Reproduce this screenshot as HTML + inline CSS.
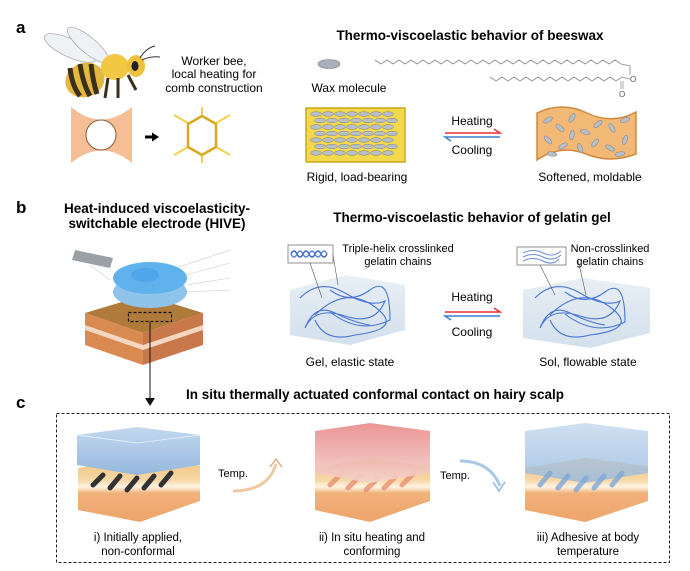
<!DOCTYPE html>
<html><head><meta charset="utf-8"><style>
html,body{margin:0;padding:0;background:#fff;}
svg{display:block;font-family:"Liberation Sans",Arial,sans-serif;}
</style></head><body>
<svg width="690" height="571" viewBox="0 0 690 571" xmlns="http://www.w3.org/2000/svg">
<defs>
<linearGradient id="blueTop" x1="0" y1="0" x2="0" y2="1"><stop offset="0" stop-color="#c4d8ee"/><stop offset="1" stop-color="#94b8de"/></linearGradient>
<linearGradient id="redTop" x1="0" y1="0" x2="0" y2="1"><stop offset="0" stop-color="#e88a8a"/><stop offset="1" stop-color="#f4d4cc"/></linearGradient>
<linearGradient id="skin" x1="0" y1="0" x2="0" y2="1"><stop offset="0" stop-color="#f3c27a"/><stop offset="0.35" stop-color="#f6d8a8"/><stop offset="0.45" stop-color="#fff3e4"/><stop offset="0.55" stop-color="#f0b27a"/><stop offset="1" stop-color="#eda46a"/></linearGradient>
<linearGradient id="gelcube" x1="0" y1="0" x2="0" y2="1"><stop offset="0" stop-color="#e8eff6"/><stop offset="1" stop-color="#d3e0ec"/></linearGradient>
</defs>

<!-- panel a -->
<text x="16" y="33" font-size="17" font-weight="bold">a</text>
<!-- bee -->
<ellipse cx="70" cy="48" rx="28" ry="9" fill="#eef2f5" stroke="#aab" stroke-width="0.8" transform="rotate(25 70 48)"/>
<ellipse cx="88" cy="45" rx="26" ry="8" fill="#eef2f5" stroke="#aab" stroke-width="0.8" transform="rotate(40 88 45)"/>
<ellipse cx="85" cy="80" rx="20" ry="17" fill="#e3b840" transform="rotate(-20 85 80)"/>
<path d="M70 68 q2 18 10 28 M80 64 q3 20 10 32 M91 64 q2 18 6 30" stroke="#3b2e1a" stroke-width="5" fill="none"/>
<ellipse cx="115" cy="67" rx="14" ry="13" fill="#f2c842"/>
<ellipse cx="136" cy="66" rx="9" ry="11" fill="#f0c040"/>
<ellipse cx="135" cy="66" rx="3.5" ry="5" fill="#222"/>
<path d="M140 58 q6 -10 15 -12 M142 60 q8 -4 18 -3" stroke="#333" fill="none"/>
<path d="M108 78 l-3 20 M118 78 l0 20 M128 75 l8 15" stroke="#3b2e1a" stroke-width="3"/>
<text x="214" y="65" font-size="12" text-anchor="middle">Worker bee,</text>
<text x="214" y="78" font-size="12" text-anchor="middle">local heating for</text>
<text x="214" y="92" font-size="12" text-anchor="middle">comb construction</text>
<!-- hex comb -->
<path d="M71 107 q30 25 61 0 v56 q-30 -25 -61 0 z" fill="#f3b384" opacity="0.85"/>
<circle cx="101" cy="135" r="15" fill="#fff" stroke="#8a5a30" stroke-width="1"/>
<path d="M145 137 h8" stroke="#000" stroke-width="3"/><path d="M152 132.5 l7 4.5 -7 4.5z" fill="#000"/>
<g stroke="#f2cf50" stroke-width="2" fill="none">
<path d="M202 107 v9 M188 123 l-14 -8 M216 123 l14 -8 M188 147 l-14 8 M216 147 l14 8 M202 155 v8"/>
</g>
<path d="M202 116 l14 8 v23 l-14 8 l-14 -8 v-23 z" fill="none" stroke="#d8a820" stroke-width="2.5"/>

<text x="470" y="40" font-size="13.5" font-weight="bold" text-anchor="middle">Thermo-viscoelastic behavior of beeswax</text>
<ellipse cx="329" cy="64" rx="11" ry="4.5" fill="#a8b0ba" stroke="#778" stroke-width="0.6"/>
<text x="349" y="92" font-size="12" text-anchor="middle">Wax molecule</text>
<polyline fill="none" stroke="#888" stroke-width="0.8" points="375,60 381,64 387,60 393,64 399,60 405,64 411,60 417,64 423,60 429,64 435,60 441,64 447,60 453,64 459,60 465,64 471,60 477,64 483,60 489,64 495,60 501,64 507,60 513,64 519,60 525,64 531,60 537,64 543,60 549,64 555,60 561,64 567,60 573,64 579,60 585,64 591,60 597,64 603,60 609,64 615,60 621,64 630,66 630,75"/>
<polyline fill="none" stroke="#888" stroke-width="0.8" points="490,77 496,81 502,77 508,81 514,77 520,81 526,77 532,81 538,77 544,81 550,77 556,81 562,77 568,81 574,77 580,81 586,77 592,81 598,77 604,81 610,77 616,81 622,77 630,79"/>
<text x="630" y="82" font-size="8" fill="#555">O</text>
<path d="M621 81 v8 M623 81 v8" stroke="#888" stroke-width="0.7"/>
<text x="619" y="97" font-size="8" fill="#555">O</text>

<rect x="306" y="108" width="99" height="54" fill="#f2d84a" stroke="#c8a820" stroke-width="1.5"/>
<g fill="#b8bec6" stroke="#7c838c" stroke-width="0.5">
<g id="wrow"><ellipse cx="316" cy="114" rx="5.5" ry="2.3"/><ellipse cx="328" cy="114" rx="5.5" ry="2.3"/><ellipse cx="340" cy="114" rx="5.5" ry="2.3"/><ellipse cx="352" cy="114" rx="5.5" ry="2.3"/><ellipse cx="364" cy="114" rx="5.5" ry="2.3"/><ellipse cx="376" cy="114" rx="5.5" ry="2.3"/><ellipse cx="388" cy="114" rx="5.5" ry="2.3"/></g>
<use href="#wrow" transform="translate(4,6.5)"/><use href="#wrow" transform="translate(0,13)"/><use href="#wrow" transform="translate(4,19.5)"/><use href="#wrow" transform="translate(0,26)"/><use href="#wrow" transform="translate(4,32.5)"/><use href="#wrow" transform="translate(0,39)"/>
</g>
<text x="357" y="181" font-size="12" text-anchor="middle">Rigid, load-bearing</text>

<text x="472" y="125" font-size="12" text-anchor="middle">Heating</text>
<path d="M445 133 h55 l-6 -4" stroke="#e83030" stroke-width="1.5" fill="none"/>
<path d="M500 137 h-55 l6 4" stroke="#3d7fd0" stroke-width="1.5" fill="none"/>
<text x="472" y="154" font-size="12" text-anchor="middle">Cooling</text>

<path d="M537 113 q25 -12 50 0 t49 -1 v42 q-25 10 -50 0 t-49 6 z" fill="#f2b875" stroke="#d08a40" stroke-width="1.5"/>
<g fill="#b8bec6" stroke="#7c838c" stroke-width="0.5">
<ellipse cx="548" cy="120" rx="5" ry="2.2" transform="rotate(-30 548 120)"/><ellipse cx="560" cy="128" rx="5" ry="2.2" transform="rotate(40 560 128)"/><ellipse cx="572" cy="118" rx="5" ry="2.2" transform="rotate(-60 572 118)"/><ellipse cx="585" cy="132" rx="5" ry="2.2" transform="rotate(20 585 132)"/><ellipse cx="598" cy="124" rx="5" ry="2.2" transform="rotate(-40 598 124)"/><ellipse cx="612" cy="128" rx="5" ry="2.2" transform="rotate(60 612 128)"/><ellipse cx="625" cy="120" rx="5" ry="2.2" transform="rotate(-20 625 120)"/><ellipse cx="548" cy="140" rx="5" ry="2.2" transform="rotate(50 548 140)"/><ellipse cx="563" cy="146" rx="5" ry="2.2" transform="rotate(-30 563 146)"/><ellipse cx="580" cy="148" rx="5" ry="2.2" transform="rotate(70 580 148)"/><ellipse cx="595" cy="143" rx="5" ry="2.2" transform="rotate(-50 595 143)"/><ellipse cx="610" cy="148" rx="5" ry="2.2" transform="rotate(30 610 148)"/><ellipse cx="625" cy="140" rx="5" ry="2.2" transform="rotate(-70 625 140)"/><ellipse cx="572" cy="135" rx="5" ry="2.2" transform="rotate(-80 572 135)"/><ellipse cx="620" cy="154" rx="5" ry="2.2" transform="rotate(-10 620 154)"/><ellipse cx="552" cy="154" rx="5" ry="2.2" transform="rotate(10 552 154)"/>
</g>
<text x="590" y="181" font-size="12" text-anchor="middle">Softened, moldable</text>

<!-- panel b -->
<text x="16" y="213" font-size="17" font-weight="bold">b</text>
<text x="157" y="213" font-size="13.5" font-weight="bold" text-anchor="middle">Heat-induced viscoelasticity-</text>
<text x="157" y="228" font-size="13.5" font-weight="bold" text-anchor="middle">switchable electrode (HIVE)</text>
<text x="472" y="222" font-size="13.5" font-weight="bold" text-anchor="middle">Thermo-viscoelastic behavior of gelatin gel</text>

<!-- HIVE block -->
<path d="M75 250 l38 8 l-3 10 l-38 -8 z" fill="#9aa0a6"/>
<g stroke="#bbb" stroke-width="0.6" opacity="0.8"><path d="M170 270 l60 -20 M175 278 l55 -15 M180 286 l50 -8 M185 292 l45 -2 M110 280 l-20 -15"/></g>
<path d="M85 313 l60 -18 l58 18 l-60 20 z" fill="#b07a3a"/>
<path d="M85 313 l58 20 v32 l-58 -20 z" fill="#d98a50"/>
<path d="M143 333 l60 -20 v32 l-60 20 z" fill="#c8784a"/>
<path d="M85 325 l58 20 v5 l-58 -20 z" fill="#f6d6c0"/>
<path d="M143 345 l60 -20 v5 l-60 20 z" fill="#f6d6c0"/>
<ellipse cx="150" cy="292" rx="37" ry="16" fill="#8ec3ea"/>
<ellipse cx="150" cy="278" rx="37" ry="16" fill="#5fb2ec"/>
<ellipse cx="145" cy="275" rx="14" ry="7" fill="#4fa6ea"/>
<rect x="128.5" y="312.5" width="43" height="9" fill="none" stroke="#111" stroke-dasharray="3,2" stroke-width="1.2"/>
<path d="M150 322 V399" stroke="#111" stroke-width="1"/>
<path d="M145 398 l5 8 l5 -8 z" fill="#111"/>

<!-- gel cubes -->
<path d="M290 290 l55 -15 l60 10 v45 l-55 15 l-60 -10 z" fill="url(#gelcube)"/>
<g fill="none" stroke="#4a76d6" stroke-width="1.1">
<path d="M300 298 q20 -20 45 -5 t40 8 q-10 25 -40 15 t-40 12 q10 -25 30 -15 t35 12"/>
<path d="M315 315 q30 -30 60 -8 t-20 28 q-30 8 -40 -15"/>
<path d="M330 290 q20 15 40 0 t20 30 q-30 15 -60 -8"/>
</g>
<rect x="288" y="245" width="45" height="18" fill="#fff" stroke="#777" stroke-width="0.8"/>
<path d="M291 254 q3 -6 6 0 t6 0 t6 0 t6 0 t6 0 t6 0" stroke="#3a5fc8" fill="none" stroke-width="1.4"/>
<path d="M291 254 q3 6 6 0 t6 0 t6 0 t6 0 t6 0 t6 0" stroke="#5a80e0" fill="none" stroke-width="1.4"/>
<path d="M310 263 l12 35 M333 255 l5 30" stroke="#555" stroke-width="0.6"/>
<text x="398" y="252" font-size="11" text-anchor="middle">Triple-helix crosslinked</text>
<text x="398" y="265" font-size="11" text-anchor="middle">gelatin chains</text>
<text x="350" y="366" font-size="12" text-anchor="middle">Gel, elastic state</text>

<text x="472" y="301" font-size="12" text-anchor="middle">Heating</text>
<path d="M445 312 h55 l-6 -4" stroke="#e83030" stroke-width="1.5" fill="none"/>
<path d="M500 316 h-55 l6 4" stroke="#3d7fd0" stroke-width="1.5" fill="none"/>
<text x="472" y="336" font-size="12" text-anchor="middle">Cooling</text>

<path d="M523 290 l60 -12 l67 10 v45 l-60 15 l-67 -10 z" fill="url(#gelcube)"/>
<g fill="none" stroke="#4a76d6" stroke-width="1.1">
<path d="M535 298 q20 -20 45 -5 t40 8 q-10 25 -40 15 t-40 12 q10 -25 30 -15 t35 12"/>
<path d="M550 315 q30 -30 60 -8 t-20 28 q-30 8 -40 -15"/>
<path d="M565 292 q20 15 40 0 t20 30 q-30 15 -60 -8"/>
</g>
<rect x="517" y="247" width="49" height="18" fill="#fff" stroke="#777" stroke-width="0.8"/>
<path d="M523 253 q10 -5 20 0 t18 -2 M523 257 q10 -5 20 0 t18 -2 M523 261 q10 -5 20 0 t16 -2" stroke="#6a8ae0" fill="none" stroke-width="1"/>
<path d="M540 265 l15 30 M578 260 l8 35" stroke="#555" stroke-width="0.6"/>
<text x="610" y="252" font-size="11" text-anchor="middle">Non-crosslinked</text>
<text x="610" y="265" font-size="11" text-anchor="middle">gelatin chains</text>
<text x="588" y="366" font-size="12" text-anchor="middle">Sol, flowable state</text>

<!-- panel c -->
<text x="16" y="408" font-size="17" font-weight="bold">c</text>
<text x="375" y="399" font-size="13.5" font-weight="bold" text-anchor="middle">In situ thermally actuated conformal contact on hairy scalp</text>
<rect x="56.5" y="413.5" width="613" height="149" fill="none" stroke="#222" stroke-dasharray="3,2" stroke-width="1"/>

<!-- block i -->
<path d="M78 468 l62 -10 l60 8 v35 l-60 21 l-62 -12 z" fill="url(#skin)"/>
<path d="M93 485 l10 -10 M110 488 l10 -12 M127 490 l10 -12 M144 488 l10 -12 M161 485 l10 -12" stroke="#333" stroke-width="5" stroke-linecap="round"/>
<path d="M77 435 l60 -8 l63 8 v30 l-63 10 l-60 -10 z" fill="url(#blueTop)"/>
<path d="M77 435 l60 8 l63 -8" fill="none" stroke="#fff" stroke-width="0.8" opacity="0.7"/>
<text x="218" y="477" font-size="11">Temp.</text>
<path d="M233 491 q35 0 43 -27" fill="none" stroke="#f0c8a0" stroke-width="3"/>
<path d="M270 467 l6 -8 l6 8" fill="none" stroke="#e8b088" stroke-width="1.5"/>

<!-- block ii -->
<path d="M315 468 l55 -10 l60 8 v35 l-60 21 l-55 -12 z" fill="url(#skin)"/>
<path d="M330 485 l12 -12 M348 488 l12 -12 M366 490 l12 -12 M384 488 l12 -12 M402 485 l12 -12" stroke="#e89070" stroke-width="5" stroke-linecap="round" opacity="0.8"/>
<path d="M315 431 l55 -8 l60 8 v42 l-60 10 l-55 -10 z" fill="url(#redTop)" opacity="0.9"/>
<text x="440" y="479" font-size="11">Temp.</text>
<path d="M460 461 q30 0 40 25" fill="none" stroke="#a8c8e8" stroke-width="3"/>
<path d="M493 482 l6 9 l6 -9" fill="none" stroke="#90b8e0" stroke-width="1.5"/>

<!-- block iii -->
<path d="M525 468 l60 -10 l63 8 v35 l-63 21 l-60 -12 z" fill="url(#skin)"/>
<path d="M525 431 l60 -8 l63 8 v42 l-63 10 l-60 -10 z" fill="url(#blueTop)" opacity="0.8"/>
<path d="M540 485 l10 -12 M558 488 l10 -12 M576 490 l10 -12 M594 488 l10 -12 M612 485 l10 -12" stroke="#7fa8d8" stroke-width="5" stroke-linecap="round" opacity="0.8"/>

<text x="138" y="541" font-size="11.5" text-anchor="middle">i) Initially applied,</text>
<text x="138" y="555" font-size="11.5" text-anchor="middle">non-conformal</text>
<text x="372" y="541" font-size="11.5" text-anchor="middle">ii) In situ heating and</text>
<text x="372" y="555" font-size="11.5" text-anchor="middle">conforming</text>
<text x="588" y="541" font-size="11.5" text-anchor="middle">iii) Adhesive at body</text>
<text x="588" y="555" font-size="11.5" text-anchor="middle">temperature</text>
</svg>
</body></html>
